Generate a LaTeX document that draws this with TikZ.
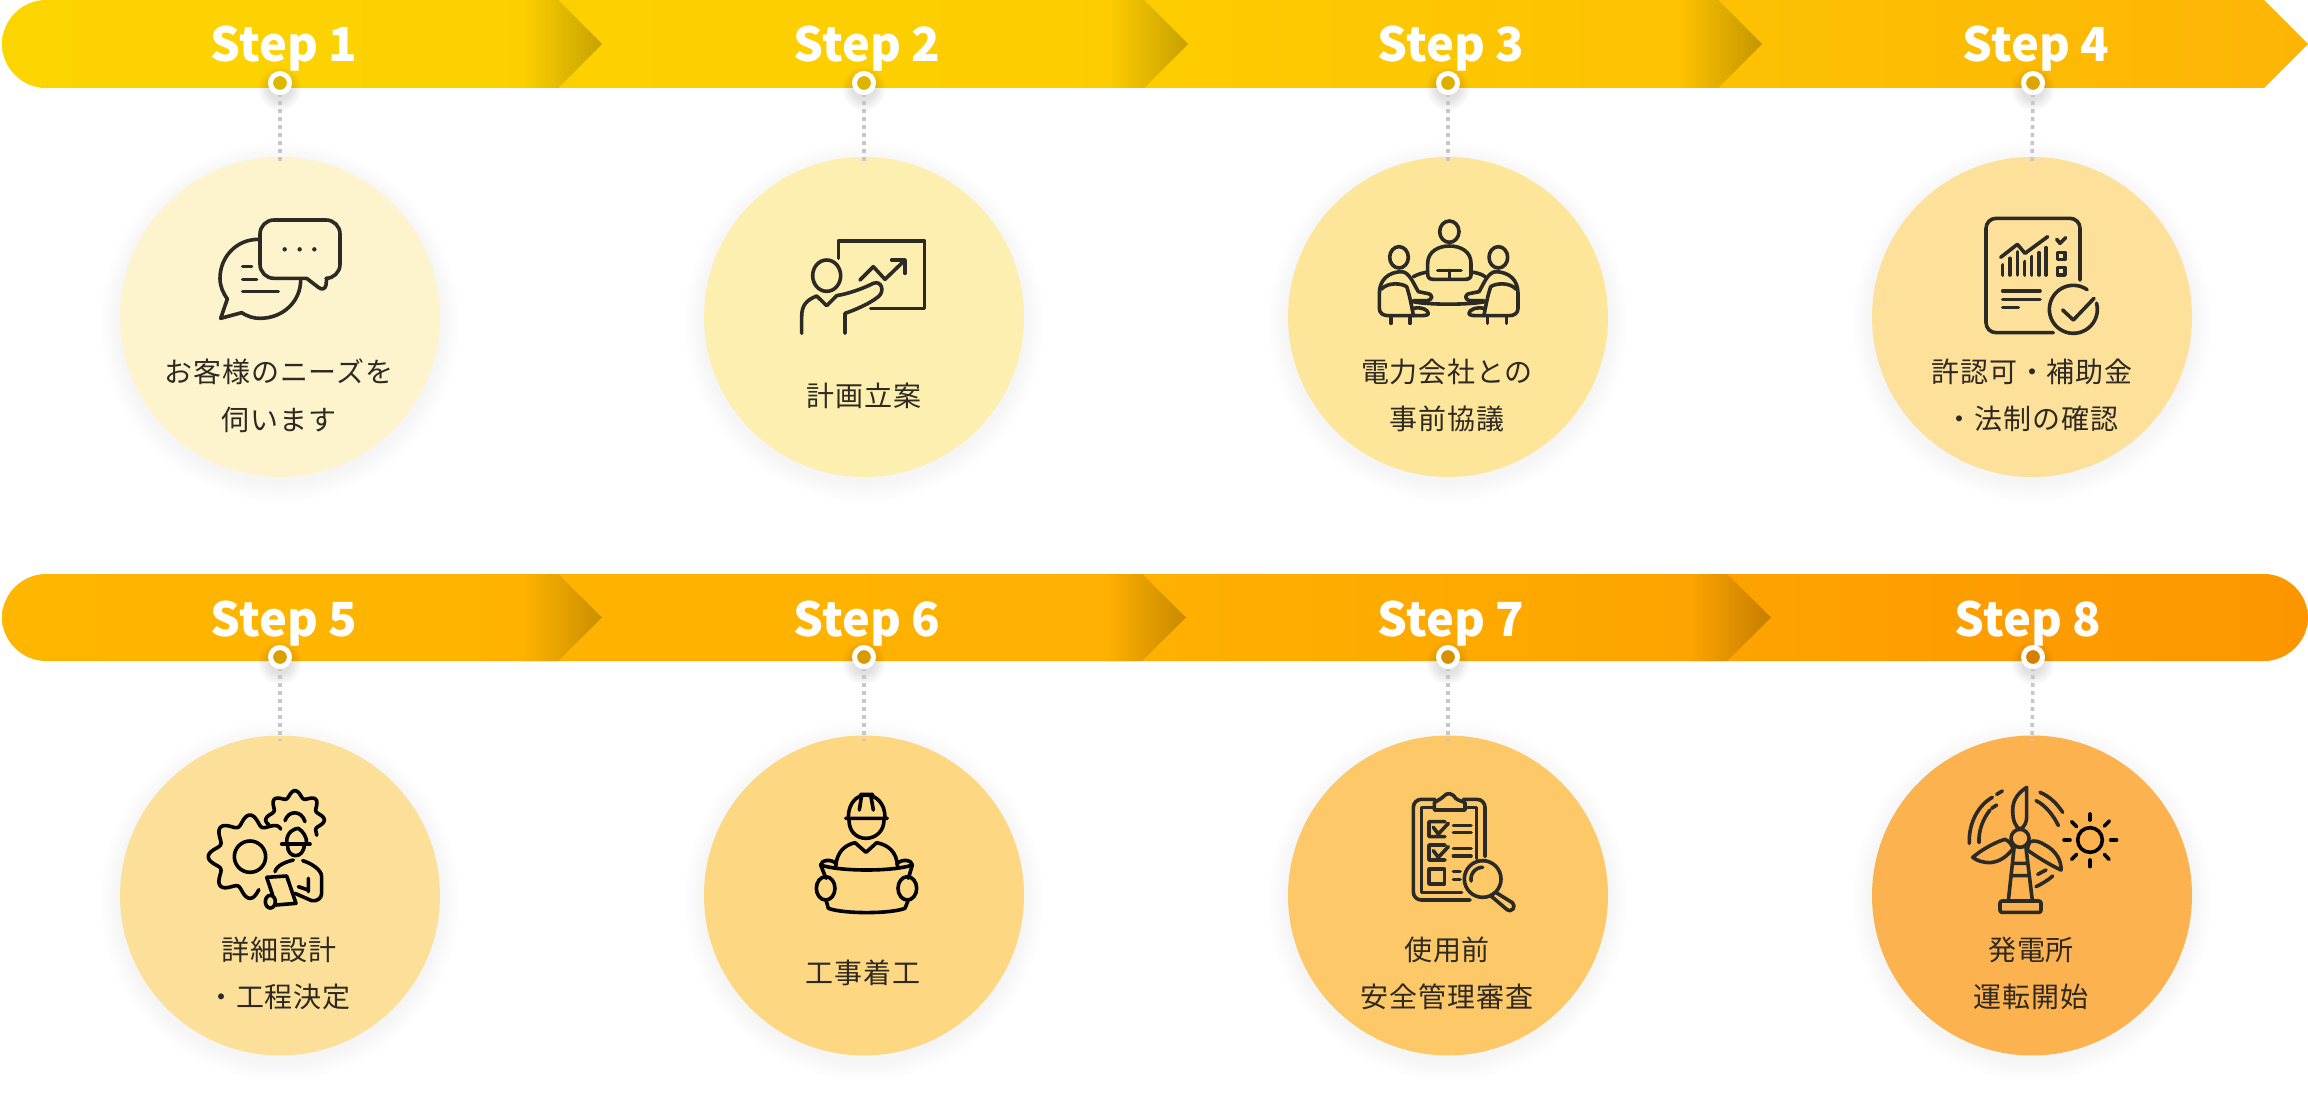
\documentclass[tikz,border=0pt]{standalone}
\usepackage{fontspec}
\newfontfamily\lblfont[LetterSpace=3]{Noto Sans CJK JP}
\newfontfamily\stepfont{Noto Sans CJK JP}
\definecolor{circ1}{HTML}{FDF3CC}\definecolor{circ2}{HTML}{FDEFB0}
\definecolor{circ3}{HTML}{FDE69A}\definecolor{circ4}{HTML}{FDE19B}
\definecolor{circ5}{HTML}{FCE09A}\definecolor{circ6}{HTML}{FDD782}
\definecolor{circ7}{HTML}{FDC968}\definecolor{circ8}{HTML}{FCB34F}
\definecolor{ring1}{HTML}{DDB800}\definecolor{ring2}{HTML}{DDB300}
\definecolor{ring3}{HTML}{DCAE00}\definecolor{ring4}{HTML}{DCA600}
\definecolor{ring5}{HTML}{D99E00}\definecolor{ring6}{HTML}{D99A00}
\definecolor{ring7}{HTML}{D79000}\definecolor{ring8}{HTML}{D68000}
\definecolor{iconc}{HTML}{2B2A24}
\definecolor{textc}{HTML}{2E2A22}
\newcommand\icoval[4]{\draw (#1,#2) ellipse [x radius=#3*0.16667pt, y radius=#4*0.16667pt];}
\newcommand\openarc[5]{\draw plot[domain=#4:#5,samples=40] ({#1+#3*cos(\x)},{#2-#3*sin(\x)});}
\newcommand\gearplot[8]{\draw plot[smooth,domain=#4:#5,samples=#8] ({#1+(#3+#6*cos(#7*\x))*cos(\x)},{#2-(#3+#6*cos(#7*\x))*sin(\x)});}
\newcommand\halfmeeting{%
  \icoval{342}{322}{28}{32}
  \draw (352,365) .. controls (310,365) and (283,390) .. (283,430) -- (283,475) .. controls (283,490) and (295,497) .. (310,497) -- (385,497);
  \draw (352,365) .. controls (375,370) and (385,400) .. (400,425) -- (425,430) .. controls (445,432) and (445,450) .. (425,452) -- (385,452);
  \draw (288,418) .. controls (310,395) and (350,400) .. (365,410) .. controls (375,440) and (380,470) .. (385,495);
  \draw (318,497) -- (318,520) (375,497) -- (375,520);
  \draw (385,475) .. controls (410,470) and (430,480) .. (430,490) .. controls (430,497) and (420,497) .. (385,497);
}
\tikzset{
  iconscope/.style={color=iconc,line width=1.8pt,line cap=round,line join=round},
  zoomunits/.style={x=0.16667pt,y=-0.16667pt},
  disc/.style={circle,inner sep=0pt,minimum size=160pt,line width=0pt},
  ringmark/.style={circle,draw=white,line width=2.5pt,inner sep=0pt,minimum size=9.5pt},
  dotline/.style={color=black!22,line width=1.8pt,dash pattern=on 2pt off 2pt,dash phase=1pt},
  steplabel/.style={anchor=base,text=white,font=\stepfont\bfseries\fontsize{23.5pt}{24pt}\selectfont,inner sep=0pt},
  itemlabel/.style={align=center,text=textc,font=\lblfont\fontsize{14pt}{23.75pt}\selectfont,inner sep=0pt},
}
\begin{document}
\begin{tikzpicture}[x=0.5pt,y=-0.5pt]
\useasboundingbox (0,0) rectangle (2308,1096);
% bars
\shade[left color={rgb,255:red,252;green,212;blue,0},right color={rgb,255:red,253;green,181;blue,5},middle color={rgb,255:red,253;green,204;blue,0}]
  (46,0) -- (2264,0) -- (2308,44) -- (2264,88) -- (46,88) .. controls (22,88) and (2,68) .. (2,44) .. controls (2,20) and (22,0) .. (46,0) -- cycle;
\shade[left color={rgb,255:red,255;green,182;blue,0},right color={rgb,255:red,252;green,150;blue,0},middle color={rgb,255:red,255;green,176;blue,0}]
  (46,574) -- (2264,574) .. controls (2288,574) and (2308,594) .. (2308,617.5) .. controls (2308,641) and (2288,661) .. (2264,661) -- (46,661) .. controls (22,661) and (2,641) .. (2,617.5) .. controls (2,594) and (22,574) .. (46,574) -- cycle;
% chevrons
\foreach \tp/\ytop/\ybot/\ymid/\ca/\cb in {
  602/0/88/44/FCD000/C8A200, 1188/0/88/44/FDCC00/C8A000, 1762/0/88/44/FDC100/C49600,
  602/574/661/617.5/FFB300/C98F00, 1186/574/661/617.5/FFB000/C88A00, 1771/574/661/617.5/FEA300/C47E00}{
  \definecolor{chA}{HTML}{\ca}\definecolor{chB}{HTML}{\cb}
  \shade[left color=chA,right color=chB] (\tp-80,\ytop) -- (\tp-44,\ytop) -- (\tp,\ymid) -- (\tp-44,\ybot) -- (\tp-80,\ybot) -- cycle;
}
% circles, rings, connectors, step labels
\foreach \n/\cx/\cy/\rx/\ry/\sx/\sy in {
  1/280/317/280/83/284/62, 2/864/317/864/83/867/62, 3/1448/317/1448/83/1451/62, 4/2032/317/2033/83/2036/62,
  5/280/895.5/280/657/284/636, 6/864/895.5/864/657/867/636, 7/1448/895.5/1448/657/1451/636, 8/2032/895.5/2033/657/2028/636}{
  \foreach \i in {1,...,10}{
    \fill[black,opacity=.0022] (\cx,\cy+5) circle ({80pt+\i*1pt});
    \fill[black,opacity=.011] (\rx,\ry+6) circle ({5pt+\i*0.6pt});
  }
  \node[disc,fill=circ\n] (c\n) at (\cx,\cy) {};
  \node[ringmark,fill=ring\n] (r\n) at (\rx,\ry) {};
  \draw[dotline] (r\n.south) -- ([yshift=-2.5pt]c\n.north);
  \node[steplabel] (s\n) at (\sx,\sy) {Step \n};
}
% texts
\node[itemlabel] (t1) at (279,395.5) {お客様のニーズを\\伺います};
\node[itemlabel] (t2) at (864,396) {計画立案};
\node[itemlabel] (t3) at (1447,395.5) {電力会社との\\事前協議};
\node[itemlabel] (t4) at (2032,395.5) {許認可・補助金\\・法制の確認};
\node[itemlabel] (t5) at (279,973.5) {詳細設計\\・工程決定};
\node[itemlabel] (t6) at (863,973) {工事着工};
\node[itemlabel] (t7) at (1447,973.5) {使用前\\安全管理審査};
\node[itemlabel] (t8) at (2031,973.5) {発電所\\運転開始};
% icon 1
\begin{scope}[shift={(110,150)},zoomunits,iconscope]
  \draw[rounded corners=7pt] (570,210) -- (690,210) -- (690,385) -- (650,385);
  \draw (650,385) -- (648,405) .. controls (646,418) and (635,420) .. (625,412) -- (590,385);
  \draw[rounded corners=7pt] (590,385) -- (450,385) -- (450,210) -- (570,210);
  \draw (445,268) .. controls (380,268) and (330,320) .. (330,385) .. controls (330,410) and (340,430) .. (352,447) -- (332,505) -- (395,488) .. controls (415,500) and (430,505) .. (450,505) .. controls (518,505) and (572,455) .. (572,390);
  \draw (398,350) -- (425,350) (398,388) -- (440,388) (398,424) -- (505,424);
  \fill (524,298) circle (1.1pt) (569,298) circle (1.1pt) (613,298) circle (1.1pt);
\end{scope}
% icon 2
\begin{scope}[shift={(700,150)},zoomunits,iconscope]
  \draw (415,325) -- (415,273) -- (673,273) -- (673,475) -- (512,475);
  \icoval{380}{377}{42}{47}
  \draw (480,390) -- (520,350) -- (555,388) -- (615,330);
  \draw (575,330) -- (615,330) -- (615,370);
  \draw (305,550) -- (305,500) .. controls (305,465) and (320,450) .. (350,438) -- (380,467) -- (410,437) .. controls (450,430) and (490,415) .. (520,400) .. controls (545,390) and (555,425) .. (535,440) .. controls (510,460) and (470,478) .. (435,490) -- (435,550);
\end{scope}
% icon 3
\begin{scope}[shift={(1285,150)},zoomunits,iconscope]
  \icoval{493}{245}{29}{32}
  \draw (445,388) .. controls (430,388) and (428,380) .. (428,370) -- (428,340) .. controls (428,305) and (460,288) .. (493,288) .. controls (528,288) and (558,305) .. (558,340) -- (558,375) .. controls (558,385) and (550,388) .. (540,388) -- cycle;
  \draw (458,361) -- (528,361) (493,361) -- (493,385);
  \draw (385,380) .. controls (400,372) and (415,368) .. (428,366);
  \draw (558,366) .. controls (575,368) and (590,372) .. (600,380);
  \draw (385,455) .. controls (430,465) and (550,465) .. (600,455);
  \halfmeeting
  \begin{scope}[xshift=982*0.16667pt,xscale=-1]\halfmeeting\end{scope}
\end{scope}
% icon 4
\begin{scope}[shift={(1870,150)},zoomunits,iconscope]
  \draw[rounded corners=5pt] (550,548) -- (348,548) -- (348,205) -- (630,205) -- (630,390);
  \draw (392,322) -- (442,283) -- (465,310) -- (533,260);
  \draw (398,345) -- (398,375) (420,325) -- (420,375) (442,305) -- (442,375) (464,335) -- (464,375) (485,320) -- (485,375) (507,308) -- (507,375) (528,293) -- (528,375);
  \draw (560,268) -- (570,280) -- (587,263);
  \draw (562,307) rectangle (585,328) (562,353) rectangle (585,375);
  \draw (398,423) -- (510,423) (398,448) -- (510,448) (398,473) -- (445,473);
  \openarc{610}{478}{72}{55}{375}
  \draw (578,480) -- (610,510) -- (672,445);
\end{scope}
% icon 5
\begin{scope}[shift={(110,730)},zoomunits,iconscope,color=black]
  \icoval{420}{380}{47}{47}
  \gearplot{420}{380}{110}{42}{285}{15}{8}{120}
  \gearplot{555}{270}{78}{-35}{190}{10}{8}{80}
  \draw (525,272) .. controls (535,240) and (575,240) .. (585,275);
  \draw (515,342) -- (600,342);
  \draw (530,335) .. controls (530,305) and (555,295) .. (565,295) .. controls (580,305) and (590,320) .. (590,340);
  \draw (533,345) .. controls (530,385) and (580,390) .. (583,345);
  \draw (495,425) .. controls (500,405) and (530,395) .. (550,390);
  \draw (578,392) .. controls (605,400) and (635,420) .. (635,440) -- (635,490) .. controls (635,505) and (620,515) .. (605,512) -- (555,490);
  \draw (595,445) -- (595,485) (565,470) -- (595,480);
  \draw (470,442) -- (530,438) -- (558,520) -- (498,525);
  \draw (470,442) -- (488,495);
  \icoval{481}{515}{15}{19}
\end{scope}
% icon 6
\begin{scope}[shift={(700,730)},zoomunits,iconscope,color=black]
  \draw (445,262) .. controls (445,220) and (470,195) .. (498,195) .. controls (528,195) and (555,220) .. (555,262);
  \draw (437,265) -- (562,265) (482,193) -- (518,193) (485,195) -- (478,240) (512,195) -- (520,240);
  \draw (447,270) .. controls (447,305) and (470,325) .. (498,325) .. controls (525,325) and (552,305) .. (552,270);
  \draw (407,410) .. controls (410,365) and (435,345) .. (465,338) -- (498,367) -- (530,338) .. controls (565,345) and (590,365) .. (593,410);
  \draw (362,405) .. controls (420,425) and (580,425) .. (637,405);
  \draw (362,405) -- (378,445) (378,510) -- (385,535) .. controls (430,552) and (570,552) .. (615,535) -- (625,510) (625,445) -- (637,405);
  \draw (362,405) .. controls (362,390) and (395,385) .. (410,402);
  \draw (637,405) .. controls (637,390) and (605,385) .. (590,402);
  \icoval{377}{475}{28}{35}
  \icoval{622}{475}{28}{35}
\end{scope}
% icon 7
\begin{scope}[shift={(1285,730)},zoomunits,iconscope]
  \draw[rounded corners=4pt] (555,510) -- (385,510) -- (385,208) -- (450,208);
  \draw[rounded corners=4pt] (535,208) -- (600,208) -- (600,380);
  \draw (530,487) -- (410,487) -- (410,232) -- (448,232) (540,232) -- (575,232) -- (575,385);
  \draw (448,240) -- (448,218) .. controls (460,210) and (470,205) .. (475,200) .. controls (485,185) and (505,190) .. (512,205) .. controls (520,212) and (535,215) .. (540,218) -- (540,240) -- cycle;
  \draw (480,275) -- (432,275) -- (432,320) -- (480,320) (445,292) -- (460,312) -- (490,280);
  \draw (505,287) -- (558,287) (505,308) -- (558,308);
  \draw (480,345) -- (432,345) -- (432,390) -- (480,390) (445,362) -- (460,382) -- (490,350);
  \draw (505,355) -- (558,355) (505,378) -- (558,378);
  \draw (432,417) rectangle (478,462);
  \draw (505,425) -- (525,425) (505,448) -- (525,448);
  \icoval{593}{447}{55}{55}
  \openarc{593}{447}{35}{90}{190}
  \draw (632,487) -- (682,518) .. controls (695,530) and (680,550) .. (665,538) -- (618,498);
\end{scope}
% icon 8
\begin{scope}[shift={(1870,730)},zoomunits,iconscope]
  \icoval{450}{325}{27}{27}
  \draw (470,172) -- (470,260) .. controls (470,275) and (465,290) .. (450,298) .. controls (435,290) and (428,270) .. (428,240) .. controls (428,205) and (450,185) .. (470,172) -- cycle;
  \draw (308,382) .. controls (340,355) and (380,335) .. (405,328) .. controls (420,335) and (425,345) .. (430,355) .. controls (410,380) and (390,395) .. (360,398) .. controls (340,398) and (320,392) .. (308,382) -- cycle;
  \draw (573,420) .. controls (575,390) and (555,360) .. (525,345) .. controls (510,335) and (495,330) .. (480,335) .. controls (475,345) and (472,350) .. (472,360) .. controls (500,380) and (540,405) .. (573,420) -- cycle;
  \draw (432,355) -- (415,512) (468,355) -- (487,512) (428,400) -- (470,400) (425,437) -- (475,437);
  \draw[rounded corners=1pt] (390,513) rectangle (513,547);
  \draw (298,340) .. controls (295,280) and (325,225) .. (367,202) (380,193) -- (397,183);
  \draw (327,338) .. controls (325,300) and (340,265) .. (360,240) (365,235) -- (380,225);
  \draw (510,187) .. controls (540,200) and (560,220) .. (578,247);
  \draw (498,212) .. controls (525,225) and (550,255) .. (565,287);
  \draw (503,433) -- (528,420) (498,470) .. controls (515,462) and (535,450) .. (548,438);
  \begin{scope}[color=black]
  \icoval{660}{330}{37}{37}
  \draw (660,252) -- (660,270) (660,390) -- (660,410) (582,330) -- (600,330) (722,330) -- (740,330);
  \draw (605,275) -- (620,290) (718,273) -- (703,288) (605,388) -- (620,373) (717,388) -- (703,373);
  \end{scope}
\end{scope}
\end{tikzpicture}
\end{document}
